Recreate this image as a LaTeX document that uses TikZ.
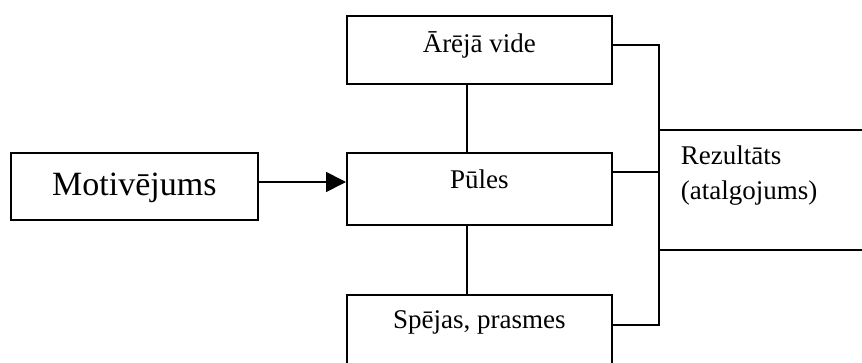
\documentclass[tikz,border=0pt]{standalone}
\usepackage{fontspec}
\setmainfont{Liberation Serif}
\usetikzlibrary{arrows.meta}

\begin{document}
\begin{tikzpicture}[x=1pt, y=-1pt,
    line width=1.7pt,
    box/.style={draw, rectangle, inner xsep=0pt, inner ysep=0pt,
                minimum width=265pt, anchor=north west,
                font=\fontsize{27}{35}\selectfont},
    bigbox/.style={draw, rectangle, inner xsep=0pt, inner ysep=0pt,
                minimum width=247pt, anchor=north west,
                font=\fontsize{34}{40}\selectfont},
    wire/.style={line cap=rect},
    feed/.style={-{Triangle[length=20pt,width=20pt]}}
  ]
  \useasboundingbox (0,0) rectangle (862,363);
  \clip (0,0) rectangle (862,363);

  % the four blocks, each text set on its own baseline
  \node[bigbox, text height=43pt, text depth=24pt] (mot) at (10,152) {Motivējums};
  \node[box, text height=37pt, text depth=31pt] (are) at (346,15) {Ārējā vide};
  \node[box, text height=36pt, text depth=36pt] (pul) at (346,152) {Pūles};
  \node[box, text height=34pt, text depth=44pt] (spe) at (346,294) {Spējas, prasmes};

  % result label (base anchor sits on the last line)
  \node[anchor=base west, align=left, inner sep=0pt,
        font=\fontsize{27}{35}\selectfont] (rez) at (680,200)
        {Rezultāts\\(atalgojums)};

  % helper points for the wiring
  \coordinate (vx) at (467,0);
  \coordinate (ta) at (659,45);
  \coordinate (tp) at (659,172);
  \coordinate (ts) at (659,325);
  \coordinate (rt) at (659,130);
  \coordinate (rte) at (866,130);
  \coordinate (rb) at (659,250);
  \coordinate (rbe) at (866,250);

  % motivation feeds effort
  \draw[feed] (mot.east |- 0,182) -- (pul.west |- 0,182);

  % vertical links through the middle column
  \draw (are.south -| vx) -- (pul.north -| vx);
  \draw (pul.south -| vx) -- (spe.north -| vx);

  % collecting bus on the right
  \draw[wire] (ta -| are.east) -- (ta) -- (ts) -- (ts -| spe.east);
  \draw (tp -| pul.east) -- (tp);

  % open-ended result frame
  \draw (rt) -- (rte);
  \draw (rb) -- (rbe);
\end{tikzpicture}
\end{document}
